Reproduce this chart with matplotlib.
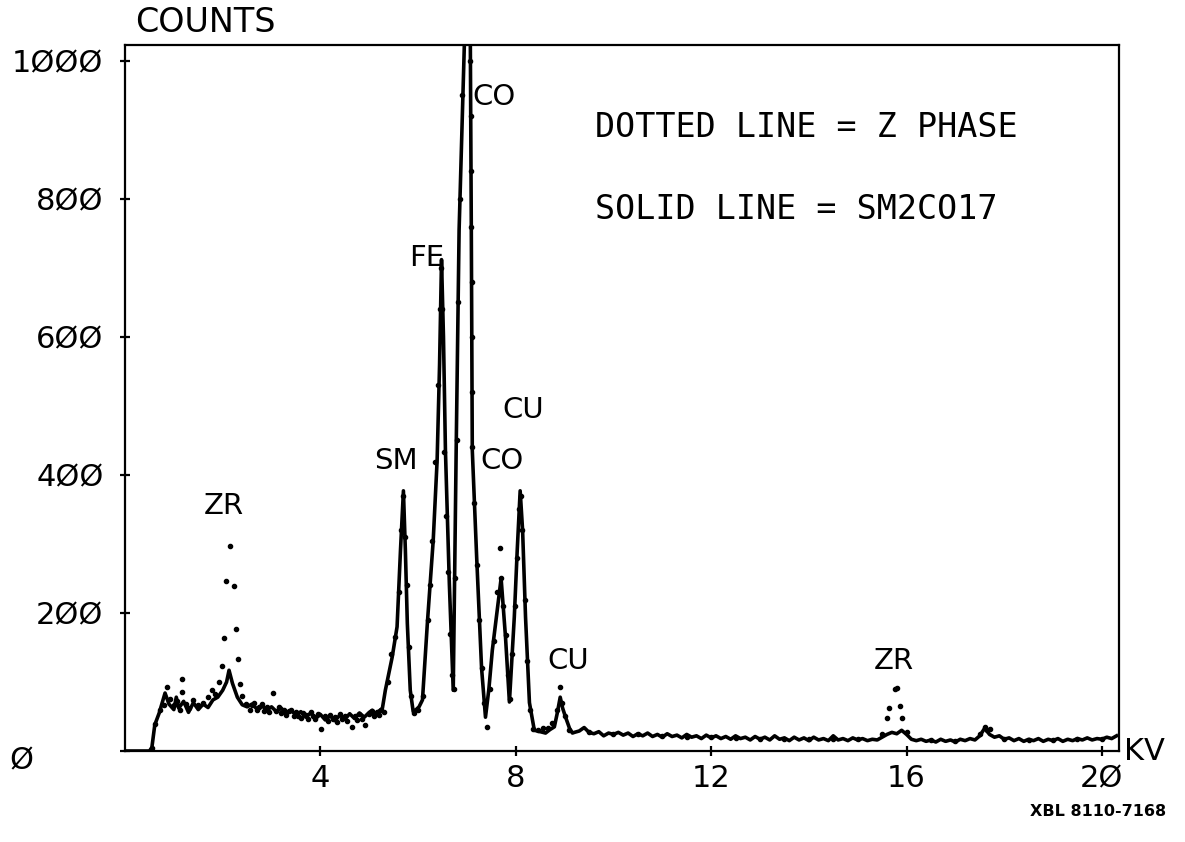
import matplotlib
matplotlib.use("Agg")
import matplotlib.pyplot as plt
import matplotlib.transforms as mtransforms

# solid line: SM2CO17 spectrum (kV, counts)
solid_kv = [0.0, 0.5, 0.55, 0.61, 0.7, 0.82, 0.9, 1.0, 1.05, 1.1, 1.2, 1.3, 1.4, 1.5, 1.6,
            1.7, 1.8, 1.9, 2.0, 2.08, 2.13, 2.2, 2.3, 2.4, 2.5, 2.6, 2.7, 2.8, 2.9, 3.0,
            3.1, 3.2, 3.3, 3.4, 3.5, 3.6, 3.7, 3.8, 3.9, 4.0, 4.1, 4.2, 4.3, 4.4, 4.5,
            4.6, 4.7, 4.8, 4.9, 5.0, 5.06, 5.1, 5.2, 5.27, 5.33, 5.47, 5.57, 5.64, 5.70,
            5.74, 5.78, 5.84, 5.90, 5.96, 6.02, 6.09, 6.19, 6.31, 6.39, 6.44, 6.48, 6.52,
            6.56, 6.64, 6.72, 6.78, 6.84, 6.95, 7.01, 7.07, 7.09, 7.11, 7.20, 7.30, 7.38,
            7.45, 7.52, 7.62, 7.70, 7.79, 7.87, 7.97, 8.03, 8.09, 8.14, 8.20, 8.28, 8.38,
            8.5, 8.61, 8.7, 8.79, 8.85, 8.91, 8.96, 9.02, 9.1, 9.16, 9.2, 9.3, 9.4, 9.5,
            9.6, 9.7, 9.8, 9.9, 10.0, 10.1, 10.2, 10.3, 10.4, 10.5, 10.6, 10.7, 10.8,
            10.9, 11.0, 11.1, 11.2, 11.3, 11.4, 11.5, 11.6, 11.7, 11.8, 11.9, 12.0, 12.1,
            12.2, 12.3, 12.4, 12.5, 12.6, 12.7, 12.8, 12.9, 13.0, 13.1, 13.2, 13.3, 13.4,
            13.5, 13.6, 13.7, 13.8, 13.9, 14.0, 14.1, 14.2, 14.3, 14.4, 14.5, 14.6, 14.7,
            14.8, 14.9, 15.0, 15.1, 15.2, 15.3, 15.4, 15.5, 15.6, 15.7, 15.8, 15.9, 16.0,
            16.1, 16.2, 16.3, 16.4, 16.5, 16.6, 16.7, 16.8, 16.9, 17.0, 17.1, 17.2, 17.3,
            17.4, 17.5, 17.6, 17.7, 17.8, 17.9, 18.0, 18.1, 18.2, 18.3, 18.4, 18.5, 18.6,
            18.7, 18.8, 18.9, 19.0, 19.1, 19.2, 19.3, 19.4, 19.5, 19.6, 19.7, 19.8, 19.9,
            20.0, 20.1, 20.2, 20.3]
solid_counts = [0, 0, 5, 38, 55, 84, 68, 60, 78, 62, 72, 56, 70, 60, 68,
                63, 74, 78, 88, 100, 117, 98, 78, 67, 64, 68, 61, 66, 59, 64,
                57, 62, 54, 59, 52, 57, 49, 55, 47, 53, 45, 51, 44, 52, 46,
                54, 47, 55, 49, 56, 59, 52, 58, 62, 88, 136, 180, 291, 377,
                291, 185, 88, 57, 60, 64, 74, 185, 305, 421, 560, 712, 600,
                436, 243, 88, 436, 755, 1030, 1800, 1030, 755, 436, 280, 120, 49,
                90, 146, 204, 250, 165, 71, 194, 291, 377, 320, 194, 70, 30,
                28, 26, 31, 35, 55, 78, 62, 49, 33, 26, 27, 29, 34, 27,
                25, 28, 22, 26, 24, 27, 23, 26, 21, 25, 22, 26, 21,
                24, 20, 25, 21, 23, 19, 24, 20, 22, 18, 23, 19, 22,
                18, 21, 17, 22, 18, 20, 16, 21, 17, 20, 16, 22, 17,
                19, 15, 20, 16, 19, 15, 20, 16, 18, 15, 22, 16, 18,
                15, 19, 16, 18, 15, 17, 16, 20, 24, 27, 25, 30, 24,
                17, 15, 17, 14, 16, 13, 17, 14, 16, 13, 17, 15, 18,
                16, 22, 33, 24, 20, 22, 17, 19, 15, 18, 14, 17, 15,
                18, 14, 17, 15, 18, 14, 17, 15, 18, 16, 19, 16, 18,
                17, 20, 18, 22]

# dotted line: Z phase spectrum (kV, counts)
dotted_kv = [0.55, 0.61, 0.72, 0.80, 0.86, 0.92, 1.0, 1.06, 1.12, 1.17, 1.17, 1.25, 1.32,
             1.4, 1.5, 1.6, 1.7, 1.78, 1.85, 1.92, 1.99, 2.03, 2.07, 2.15, 2.23, 2.27,
             2.32, 2.36, 2.40, 2.48, 2.55, 2.6, 2.65, 2.7, 2.75, 2.8, 2.85, 2.9, 2.95,
             3.03, 3.1, 3.15, 3.2, 3.25, 3.3, 3.35, 3.4, 3.45, 3.5, 3.55, 3.6, 3.65,
             3.7, 3.75, 3.8, 3.85, 3.9, 3.95, 4.02, 4.1, 4.15, 4.2, 4.25, 4.3, 4.35,
             4.4, 4.45, 4.5, 4.55, 4.65, 4.7, 4.75, 4.8, 4.85, 4.92, 5.0, 5.05, 5.1,
             5.15, 5.2, 5.25, 5.3, 5.38, 5.45, 5.52, 5.6, 5.66, 5.70, 5.74, 5.77, 5.81,
             5.86, 5.92, 6.0, 6.1, 6.2, 6.25, 6.29, 6.35, 6.40, 6.44, 6.47, 6.50, 6.54,
             6.58, 6.62, 6.66, 6.70, 6.73, 6.76, 6.79, 6.82, 6.85, 6.90, 6.95, 7.07,
             7.08, 7.085, 7.09, 7.095, 7.10, 7.105, 7.11, 7.15, 7.2, 7.25, 7.3, 7.35,
             7.42, 7.48, 7.55, 7.62, 7.68, 7.70, 7.74, 7.79, 7.84, 7.88, 7.93, 7.98,
             8.03, 8.07, 8.10, 8.12, 8.18, 8.24, 8.30, 8.36, 8.45, 8.55, 8.65, 8.75,
             8.85, 8.91, 8.95, 9.0, 9.1, 9.5, 10.0, 10.5, 11.0, 11.5, 12.0, 12.5, 13.0,
             13.5, 14.0, 14.5, 15.0, 15.5, 15.6, 15.64, 15.76, 15.80, 15.86, 15.9, 16.0,
             16.5, 17.0, 17.5, 17.6, 17.65, 17.7, 18.0, 18.5, 19.0, 19.5, 20.0]
dotted_counts = [5, 39, 60, 67, 93, 75, 66, 72, 60, 104, 85, 68, 62,
                 74, 66, 70, 78, 88, 82, 100, 123, 164, 246, 297, 239, 177,
                 133, 97, 80, 68, 60, 66, 70, 60, 64, 68, 58, 64, 56,
                 84, 58, 64, 55, 60, 52, 58, 60, 50, 57, 51, 48, 55,
                 52, 46, 56, 50, 47, 54, 32, 50, 44, 52, 46, 49, 42,
                 53, 47, 50, 43, 35, 51, 45, 53, 47, 38, 54, 58, 50,
                 57, 52, 60, 56, 100, 140, 165, 230, 320, 370, 310, 240, 150,
                 80, 55, 60, 80, 190, 240, 305, 419, 530, 640, 700, 640, 433,
                 340, 260, 170, 110, 90, 250, 450, 650, 800, 950, 1050, 1000,
                 920, 840, 760, 680, 600, 520, 440, 360, 270, 190, 120, 70,
                 35, 90, 160, 230, 294, 250, 210, 168, 110, 75, 140, 210,
                 280, 350, 370, 320, 219, 130, 60, 32, 30, 34, 33, 40,
                 60, 93, 70, 50, 30, 28, 25, 24, 22, 21, 20, 19, 18,
                 18, 17, 18, 17, 25, 48, 62, 90, 91, 65, 48, 28,
                 16, 15, 25, 35, 30, 32, 17, 16, 16, 17, 18]

y_ticks = [0, 200, 400, 600, 800, 1000]
y_tick_labels = ["", "2ØØ", "4ØØ", "6ØØ", "8ØØ", "1ØØØ"]
x_ticks = [4, 8, 12, 16, 20]
x_tick_labels = ["4", "8", "12", "16", "2Ø"]

# peak labels: (text, kV, counts)
peak_labels = [("CO", 7.11, 948), ("FE", 5.82, 714), ("CU", 7.73, 494),
               ("SM", 5.10, 420), ("CO", 7.27, 420), ("ZR", 1.62, 355),
               ("CU", 8.65, 130), ("ZR", 15.33, 130)]

plt.rcParams["font.family"] = ["DejaVu Sans"]

fig = plt.figure(figsize=(11.85, 8.42), dpi=100)
ax = fig.add_axes([125 / 1185, 1 - 751 / 842, (1119 - 125) / 1185, (751 - 45) / 842])

ax.plot(solid_kv, solid_counts, color="black", lw=2.6, solid_joinstyle="round")
ax.plot(dotted_kv, dotted_counts, linestyle="none", marker="o", markersize=3,
        color="black")

ax.set_xlim(0, 20.35)
ax.set_ylim(0, 1023)

for s in ax.spines.values():
    s.set_linewidth(1.6)

ax.set_yticks(y_ticks)
ax.set_yticklabels(y_tick_labels)
ax.set_xticks(x_ticks)
ax.set_xticklabels(x_tick_labels)
ax.tick_params(axis="both", direction="inout", length=7, width=1.6, labelsize=22)
ax.tick_params(axis="y", pad=12)
ax.tick_params(axis="x", pad=6)

# the zero label sits at the far left
trans = mtransforms.blended_transform_factory(fig.transFigure, ax.transData)
ax.text(9 / 1185, -14, "Ø", transform=trans, fontsize=22, ha="left", va="center")

for txt, kv, c in peak_labels:
    ax.text(kv, c, txt, fontsize=21, ha="left", va="center")

ax.text(9.63, 903, "DOTTED LINE = Z PHASE", fontsize=24, family="DejaVu Sans Mono",
        ha="left", va="center")
ax.text(9.63, 784, "SOLID LINE = SM2CO17", fontsize=24, family="DejaVu Sans Mono",
        ha="left", va="center")

ax.text(20.45, 0, "KV", fontsize=22, ha="left", va="center", clip_on=False)
fig.text(135 / 1185, 1 - 22 / 842, "COUNTS", fontsize=24, ha="left", va="center")
fig.text(1030 / 1185, 1 - 812 / 842, "XBL 8110-7168", fontsize=11.5,
         fontweight="bold", ha="left", va="center")

fig.savefig("out.png", dpi=100)
